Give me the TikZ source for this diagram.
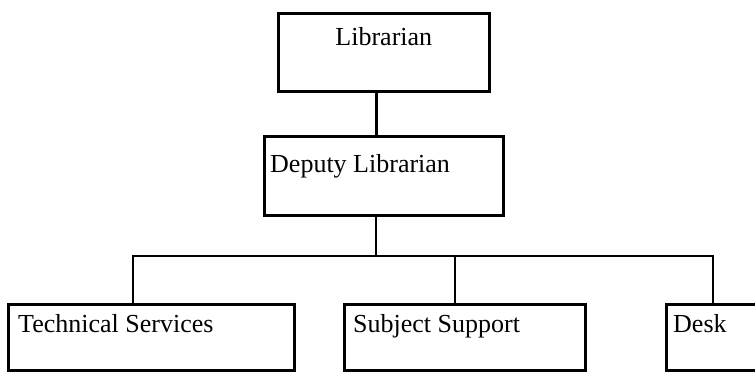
\documentclass[tikz,border=0pt]{standalone}
\usepackage{fontspec}
\setmainfont{Liberation Serif}
\begin{document}
\begin{tikzpicture}[x=1pt,y=-1pt,
  box/.style={draw, line width=2.6pt, inner sep=0pt, anchor=north west},
  lbl/.style={anchor=base west, inner sep=0pt, font=\fontsize{26}{30}\selectfont},
  wire/.style={line width=2.6pt, line join=miter}]
  \useasboundingbox (0,0) rectangle (755,372);
  % boxes
  \node[box, minimum width=211pt, minimum height=78pt] (lib)  at (277,12)  {};
  \node[box, minimum width=239pt, minimum height=79pt] (dep)  at (263,135) {};
  \node[box, minimum width=286pt, minimum height=66pt] (tech) at (7,303)   {};
  \node[box, minimum width=241pt, minimum height=66pt] (subj) at (343,303) {};
  \node[box, minimum width=105pt, minimum height=66pt] (desk) at (665,303) {};
  % texts
  \node[lbl, anchor=base] (tlib) at ([yshift=-33pt]lib.north) {Librarian};
  \node[lbl] (tdep)  at ([xshift=7pt,yshift=-37pt]dep.north west)  {Deputy Librarian};
  \node[lbl] (ttech) at ([xshift=11pt,yshift=-29pt]tech.north west) {Technical Services};
  \node[lbl] (tsubj) at ([xshift=10pt,yshift=-29pt]subj.north west) {Subject Support};
  \node[lbl] (tdesk) at ([xshift=8pt,yshift=-29pt]desk.north west)  {Desk};
  % connectors
  \coordinate (busL) at (133,256);
  \coordinate (busM) at (376,256);
  \coordinate (busS) at (455,256);
  \coordinate (busR) at (713,256);
  \draw[wire] ([xshift=-7.5pt]lib.south) -- ([xshift=-7.5pt]lib.south |- dep.north);
  \draw[wire] (dep.south -| busM) -- (busM);
  \draw[wire] (tech.north -| busL) -- (busL) -- (busR) -- (desk.north -| busR);
  \draw[wire] (busS) -- (busS |- subj.north);
\end{tikzpicture}
\end{document}
